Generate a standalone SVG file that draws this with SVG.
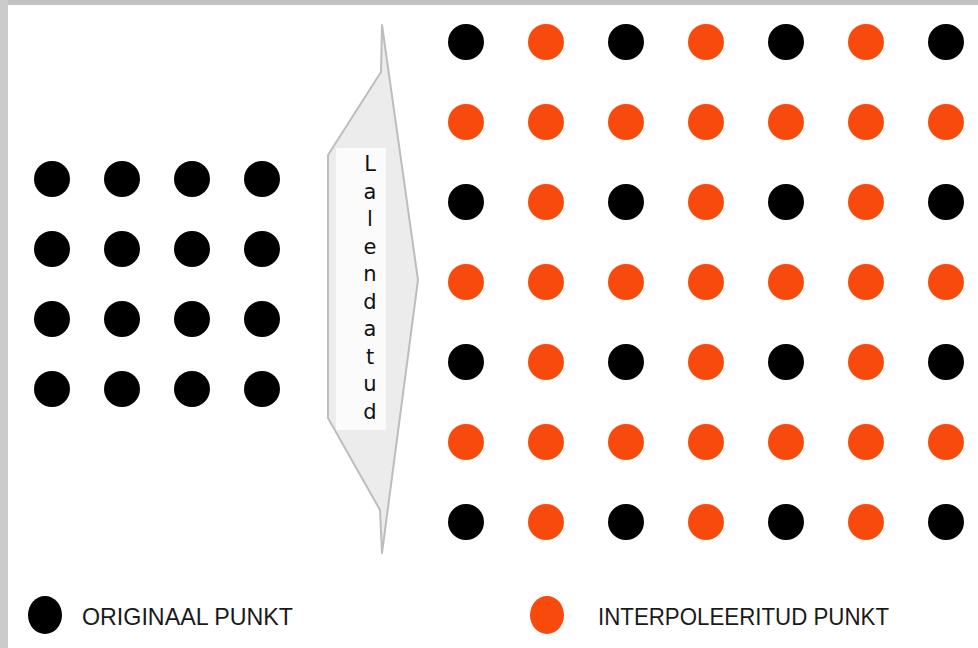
<svg xmlns="http://www.w3.org/2000/svg" width="978" height="648" viewBox="0 0 978 648">
<style>
.k{fill:#000}
.o{fill:#f94a0e}
.lbl{font-family:"Liberation Sans",Arial,sans-serif;font-size:24px;fill:#1a1a1a}
.vt{font-family:"DejaVu Sans",Verdana,sans-serif;font-size:21px;fill:#111;text-anchor:middle}
</style>
<rect x="0" y="0" width="978" height="648" fill="#ffffff"/>
<rect x="0" y="0" width="978" height="5" fill="#c2c2c2"/>
<rect x="0" y="0" width="8" height="648" fill="#cbcbcb"/>

<g id="original-grid">
<circle class="k" cx="52" cy="179" r="18"/><circle class="k" cx="122" cy="179" r="18"/><circle class="k" cx="192" cy="179" r="18"/><circle class="k" cx="262" cy="179" r="18"/>
<circle class="k" cx="52" cy="249" r="18"/><circle class="k" cx="122" cy="249" r="18"/><circle class="k" cx="192" cy="249" r="18"/><circle class="k" cx="262" cy="249" r="18"/>
<circle class="k" cx="52" cy="319" r="18"/><circle class="k" cx="122" cy="319" r="18"/><circle class="k" cx="192" cy="319" r="18"/><circle class="k" cx="262" cy="319" r="18"/>
<circle class="k" cx="52" cy="389" r="18"/><circle class="k" cx="122" cy="389" r="18"/><circle class="k" cx="192" cy="389" r="18"/><circle class="k" cx="262" cy="389" r="18"/>
</g>

<g id="arrow-lalendatud">
<path d="M382 25 L381 72 L328 155 L328 418 L380 510 L382 553 L418 280 Z" fill="#ececec" stroke="#bdbdbd" stroke-width="2" stroke-linejoin="round"/>
<rect x="336" y="148" width="50" height="282" fill="#fbfbfb"/>
<text class="vt" x="370" y="171">L</text>
<text class="vt" x="370" y="198.5">a</text>
<text class="vt" x="370" y="226">l</text>
<text class="vt" x="370" y="253.5">e</text>
<text class="vt" x="370" y="281">n</text>
<text class="vt" x="370" y="308.5">d</text>
<text class="vt" x="370" y="336">a</text>
<text class="vt" x="370" y="363.5">t</text>
<text class="vt" x="370" y="391">u</text>
<text class="vt" x="370" y="418.5">d</text>
</g>

<g id="interpolated-grid">
<circle class="k" cx="466" cy="42" r="18"/><circle class="o" cx="546" cy="42" r="18"/><circle class="k" cx="626" cy="42" r="18"/><circle class="o" cx="706" cy="42" r="18"/><circle class="k" cx="786" cy="42" r="18"/><circle class="o" cx="866" cy="42" r="18"/><circle class="k" cx="946" cy="42" r="18"/>
<circle class="o" cx="466" cy="122" r="18"/><circle class="o" cx="546" cy="122" r="18"/><circle class="o" cx="626" cy="122" r="18"/><circle class="o" cx="706" cy="122" r="18"/><circle class="o" cx="786" cy="122" r="18"/><circle class="o" cx="866" cy="122" r="18"/><circle class="o" cx="946" cy="122" r="18"/>
<circle class="k" cx="466" cy="202" r="18"/><circle class="o" cx="546" cy="202" r="18"/><circle class="k" cx="626" cy="202" r="18"/><circle class="o" cx="706" cy="202" r="18"/><circle class="k" cx="786" cy="202" r="18"/><circle class="o" cx="866" cy="202" r="18"/><circle class="k" cx="946" cy="202" r="18"/>
<circle class="o" cx="466" cy="282" r="18"/><circle class="o" cx="546" cy="282" r="18"/><circle class="o" cx="626" cy="282" r="18"/><circle class="o" cx="706" cy="282" r="18"/><circle class="o" cx="786" cy="282" r="18"/><circle class="o" cx="866" cy="282" r="18"/><circle class="o" cx="946" cy="282" r="18"/>
<circle class="k" cx="466" cy="362" r="18"/><circle class="o" cx="546" cy="362" r="18"/><circle class="k" cx="626" cy="362" r="18"/><circle class="o" cx="706" cy="362" r="18"/><circle class="k" cx="786" cy="362" r="18"/><circle class="o" cx="866" cy="362" r="18"/><circle class="k" cx="946" cy="362" r="18"/>
<circle class="o" cx="466" cy="442" r="18"/><circle class="o" cx="546" cy="442" r="18"/><circle class="o" cx="626" cy="442" r="18"/><circle class="o" cx="706" cy="442" r="18"/><circle class="o" cx="786" cy="442" r="18"/><circle class="o" cx="866" cy="442" r="18"/><circle class="o" cx="946" cy="442" r="18"/>
<circle class="k" cx="466" cy="522" r="18"/><circle class="o" cx="546" cy="522" r="18"/><circle class="k" cx="626" cy="522" r="18"/><circle class="o" cx="706" cy="522" r="18"/><circle class="k" cx="786" cy="522" r="18"/><circle class="o" cx="866" cy="522" r="18"/><circle class="k" cx="946" cy="522" r="18"/>
</g>

<g id="legend-original">
<ellipse class="k" cx="45" cy="615" rx="17" ry="19"/>
<text class="lbl" x="82" y="625" textLength="211" lengthAdjust="spacingAndGlyphs">ORIGINAAL PUNKT</text>
</g>
<g id="legend-interpolated">
<ellipse class="o" cx="547" cy="615" rx="17" ry="19"/>
<text class="lbl" x="598" y="625" textLength="291" lengthAdjust="spacingAndGlyphs">INTERPOLEERITUD PUNKT</text>
</g>
<g id="connectors"/>
</svg>
